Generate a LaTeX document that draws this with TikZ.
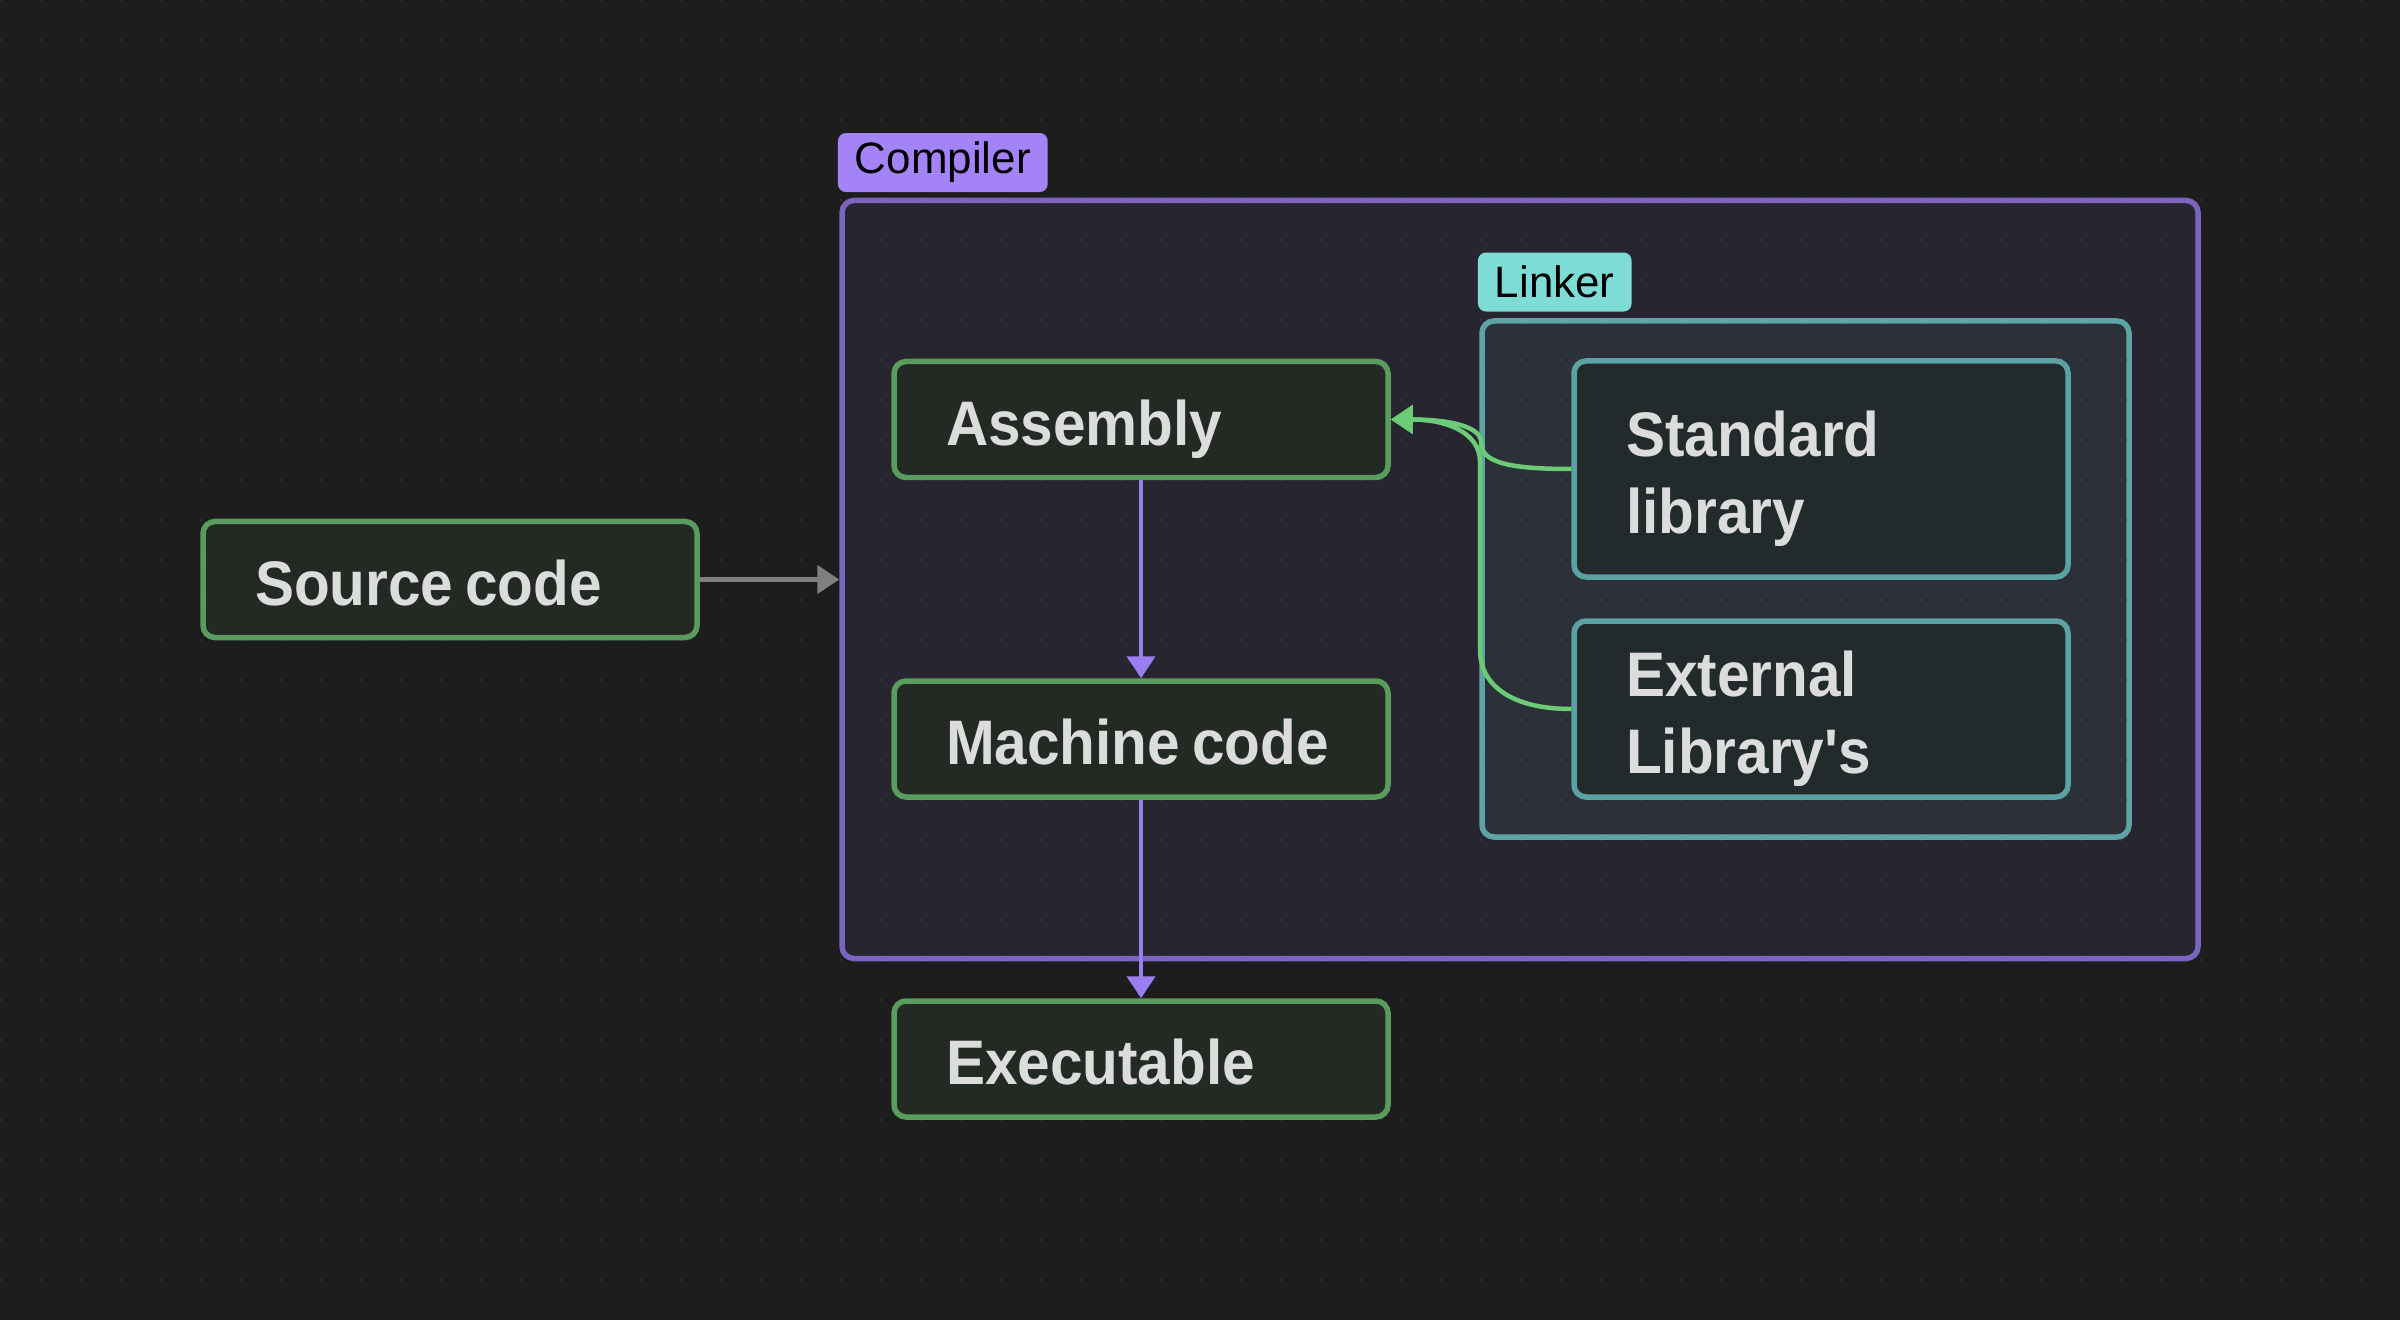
\documentclass[tikz,border=0pt]{standalone}
\usepackage{fontspec}
\setmainfont{Liberation Sans}
\newfontfamily\stagefont[FakeStretch = 0.93]{Liberation Sans}
\usetikzlibrary{arrows.meta,positioning,calc}

\definecolor{bgdark}{HTML}{1D1D1D}
\definecolor{compfill}{HTML}{262530}
\definecolor{compline}{HTML}{7A64BF}
\definecolor{comptag}{HTML}{A483F6}
\definecolor{linkfill}{HTML}{2C3039}
\definecolor{linkline}{HTML}{5FA4A4}
\definecolor{linktag}{HTML}{7DDCD6}
\definecolor{greenfill}{HTML}{232A24}
\definecolor{greenline}{HTML}{5A9C5E}
\definecolor{tealfill}{HTML}{232A2B}
\definecolor{tealline}{HTML}{5BA3A3}
\definecolor{flowpurple}{HTML}{9A7EF0}
\definecolor{flowgreen}{HTML}{6BCB77}
\definecolor{flowgray}{HTML}{7F7F7F}
\definecolor{txtgray}{HTML}{DCDCDC}

\tikzset{stage/.style = {draw = #1, rounded corners = 0.12cm, line width = 0.055cm,
                         inner xsep = 0cm, inner ysep = 0cm, text width = 4.94cm, align = left,
                         execute at begin node = {\leftskip = 0.52cm\spaceskip = 3.4pt\relax},
                         text = txtgray, minimum height = 1.16cm,
                         text height = 14.6pt, text depth = 0pt,
                         font = \stagefont\bfseries\fontsize{17.9}{21.9}\selectfont},
         greenstage/.style = {stage = greenline, fill = greenfill},
         tealstage/.style = {stage = tealline, fill = tealfill, text height = 13.7pt, text depth = 20.7pt},
         frame/.style = {draw = #1, rounded corners = 0.12cm, line width = 0.055cm, inner sep = 0cm},
         tag/.style = {fill = #1, rounded corners = 0.08cm, text = black, inner xsep = 0.17cm,
                       inner ysep = 0cm, minimum height = 0.59cm,
                       font = \fontsize{12.5}{14}\selectfont},
         flow/.style = {draw = #1, line width = 0.045cm, -{Triangle[width = 0.28cm, length = 0.22cm]}},
         griddot/.style = {fill = white, opacity = 0.12}
        }

\begin{document}
\begin{tikzpicture}
  \fill[bgdark] (0, 0) rectangle (24, -13.2);
  \useasboundingbox (0, 0) rectangle (24, -13.2);

  % containers
  \node[frame = compline, fill = compfill, minimum width = 13.56cm, minimum height = 7.58cm]
    (compiler) at (15.20, -5.795) {};
  \node[frame = linkline, fill = linkfill, minimum width = 6.47cm, minimum height = 5.16cm]
    (linker) at (18.055, -5.79) {};

  % dotted grid
  \foreach \i in {0,...,59}
    \foreach \j in {0,...,32}
      \fill[griddot] (\i*0.4 + 0.01, -\j*0.4) circle (0.012);

  \node[tag = comptag, above right = 0.05cm and -0.02cm of compiler.north west] (complabel) {Compiler};
  \node[tag = linktag, above right = 0.06cm and -0.02cm of linker.north west] (linklabel) {Linker};

  % stages
  \node[greenstage] (src)  at (4.50, -5.795)  {Source code};
  \node[greenstage] (asm)  at (11.41, -4.195) {Assembly};
  \node[greenstage] (mach) at (11.41, -7.39)  {Machine code};
  \node[greenstage] (exe)  at (11.41, -10.59) {Executable};
  \node[tealstage, minimum height = 2.16cm] (std) at (18.21, -4.69) {Standard\\library};
  \node[tealstage, minimum height = 1.76cm] (ext) at (18.21, -7.09) {External\\Library's};

  \coordinate (stdturn) at (14.81, -4.42);
  \coordinate (turnlo)  at (14.80, -6.50);
  \coordinate (turnhi)  at (14.80, -4.62);

  \draw[flow = flowgray] (src.east) -- (compiler.west);
  \draw[flow = flowpurple] (asm) -- (mach);
  \draw[flow = flowpurple] (mach) -- (exe);
  \draw[flow = flowgreen] (std.west) .. controls ($(std.west) + (-0.65, 0)$) and ($(stdturn) + (0, -0.2)$) .. (stdturn)
    .. controls ($(stdturn) + (0, 0.15)$) and ($(asm.east) + (0.6, 0)$) .. (asm.east);
  \draw[flow = flowgreen] (ext.west) .. controls ($(ext.west) + (-0.6, 0)$) and ($(turnlo) + (0, -0.35)$) .. (turnlo)
    -- (turnhi) .. controls ($(turnhi) + (0, 0.3)$) and ($(asm.east) + (0.55, 0)$) .. (asm.east);
\end{tikzpicture}
\end{document}
